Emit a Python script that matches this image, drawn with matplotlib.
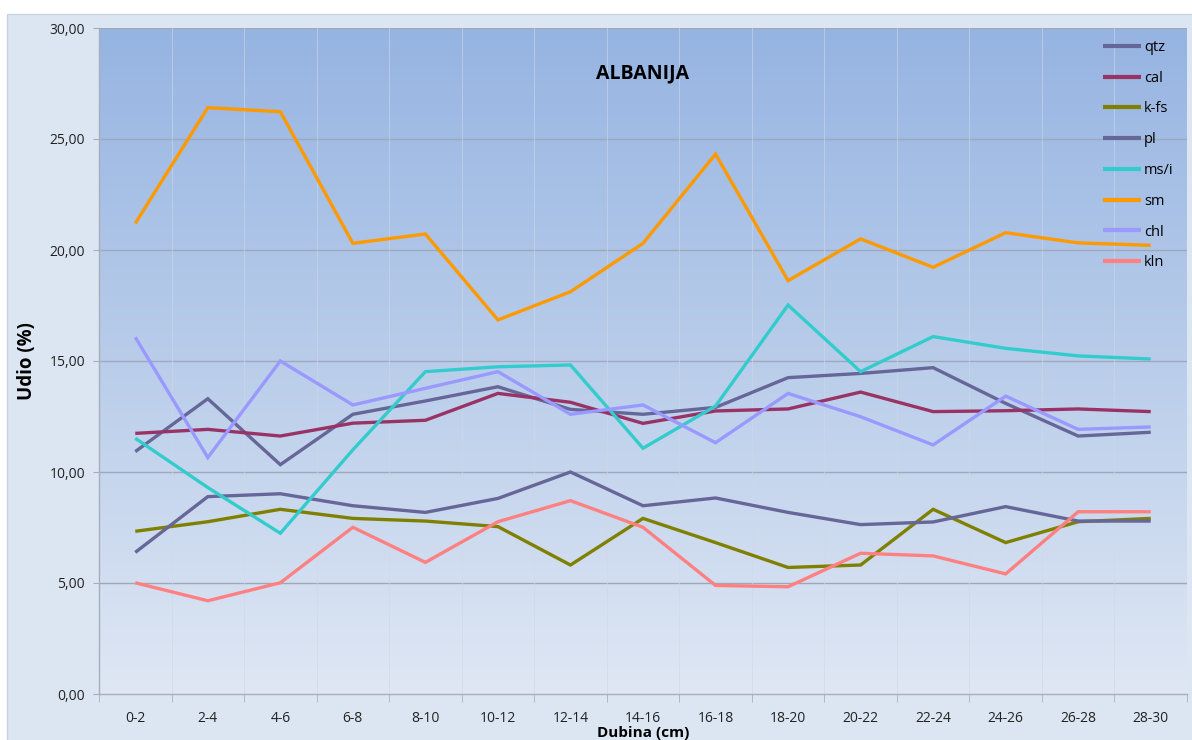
import numpy as np
import matplotlib
matplotlib.use("Agg")
import matplotlib.pyplot as plt
from matplotlib.patches import Rectangle
from matplotlib.colors import LinearSegmentedColormap

plt.rcParams['font.family'] = ['Open Sans', 'DejaVu Sans']

depths = ["0-2", "2-4", "4-6", "6-8", "8-10", "10-12", "12-14", "14-16",
          "16-18", "18-20", "20-22", "22-24", "24-26", "26-28", "28-30"]

qtz = [10.92, 13.30, 10.33, 12.60, 13.20, 13.84, 12.82, 12.60, 12.91, 14.25, 14.44, 14.70, 13.09, 11.62, 11.79]
cal = [11.74, 11.92, 11.62, 12.20, 12.33, 13.54, 13.14, 12.19, 12.75, 12.84, 13.60, 12.72, 12.76, 12.84, 12.72]
kfs = [7.33, 7.76, 8.32, 7.91, 7.79, 7.54, 5.81, 7.91, 6.82, 5.70, 5.81, 8.32, 6.82, 7.76, 7.91]
pl = [6.38, 8.89, 9.02, 8.48, 8.18, 8.81, 10.00, 8.48, 8.83, 8.18, 7.63, 7.75, 8.44, 7.79, 7.79]
msi = [11.52, 9.30, 7.24, 11.00, 14.52, 14.74, 14.82, 11.07, 12.97, 17.52, 14.52, 16.10, 15.57, 15.23, 15.09]
sm = [21.20, 26.41, 26.23, 20.30, 20.72, 16.85, 18.12, 20.30, 24.32, 18.62, 20.50, 19.22, 20.78, 20.32, 20.21]
chl = [16.07, 10.65, 15.00, 13.02, 13.77, 14.52, 12.60, 13.02, 11.32, 13.54, 12.49, 11.22, 13.42, 11.92, 12.03]
kln = [5.01, 4.20, 5.01, 7.51, 5.93, 7.76, 8.71, 7.51, 4.89, 4.83, 6.34, 6.22, 5.41, 8.21, 8.21]

series = [
    ("qtz", qtz, "#666699"),
    ("cal", cal, "#993366"),
    ("k-fs", kfs, "#808000"),
    ("pl", pl, "#666699"),
    ("ms/i", msi, "#33CCCC"),
    ("sm", sm, "#FF9900"),
    ("chl", chl, "#9999FF"),
    ("kln", kln, "#FF8080"),
]

W, H = 1192, 740
fig = plt.figure(figsize=(W / 100, H / 100), dpi=100)
fig.patch.set_facecolor("white")

# chart area panel
fig.patches.append(Rectangle((7 / W, -0.01), 1.0, 1 - 14 / H + 0.01,
                             transform=fig.transFigure, facecolor="#dce6f2",
                             edgecolor="#c9d3e0", linewidth=1.0, zorder=-10))

left, right, top, bottom = 99 / W, 1187 / W, 1 - 28 / H, 1 - 694 / H
ax = fig.add_axes([left, bottom, right - left, top - bottom])
ax.set_facecolor("none")

x = np.arange(len(depths))
ax.set_xlim(-0.5, len(depths) - 0.5)
ax.set_ylim(0, 30)

# vertical gradient fill of the plot area
cmap = LinearSegmentedColormap.from_list("bg", ["#dfe7f4", "#b9cdea", "#96b4e2"])
grad = np.linspace(0, 1, 256).reshape(-1, 1)
ax.imshow(grad, cmap=cmap, origin="lower", aspect="auto",
          extent=[-0.5, len(depths) - 0.5, 0, 30], zorder=0)

# gridlines
for yv in range(5, 31, 5):
    ax.axhline(yv, color="#9ea8b8", lw=1.0, zorder=1)
for xb in np.arange(0.5, len(depths) - 0.5, 1):
    ax.axvline(xb, color="#cfd8e6", lw=0.7, alpha=0.6, zorder=1)

for name, vals, col in series:
    ax.plot(x, vals, color=col, lw=2.4, label=name, zorder=3,
            solid_joinstyle="miter", solid_capstyle="butt")

ax.set_yticks(np.arange(0, 31, 5))
ax.set_yticklabels([f"{v:.2f}".replace(".", ",") for v in np.arange(0, 31, 5)],
                   fontsize=10, color="#222222")
ax.set_xticks(x)
ax.set_xticklabels(depths, fontsize=10, color="#222222")
ax.set_xticks(np.arange(-0.5, len(depths), 1), minor=True)
ax.tick_params(axis="x", which="major", length=0, pad=12)
ax.tick_params(axis="x", which="minor", length=6, color="#a6aebb", direction="out")
ax.tick_params(axis="y", length=4, color="#a6aebb", direction="out", pad=6)

for s in ["top", "right"]:
    ax.spines[s].set_visible(False)
for s in ["left", "bottom"]:
    ax.spines[s].set_color("#a6aebb")
    ax.spines[s].set_linewidth(1.0)

ax.set_ylabel("Udio (%)", fontsize=13.5, fontweight="bold", labelpad=9)
ax.set_xlabel("Dubina (cm)", fontsize=11, fontweight="bold", labelpad=0)

ax.text(0.5, 0.932, "ALBANIJA", transform=ax.transAxes, ha="center", va="center",
        fontsize=14, fontweight="bold", zorder=5)

leg = ax.legend(loc="upper left", bbox_to_anchor=(1103 / W, 1 - 40 / H),
                bbox_transform=fig.transFigure, frameon=False, fontsize=10.5,
                handlelength=2.6, handletextpad=0.2, labelspacing=1.08,
                borderpad=0, borderaxespad=0)
for line in leg.get_lines():
    line.set_linewidth(3.0)

fig.savefig("out.png", dpi=100)
